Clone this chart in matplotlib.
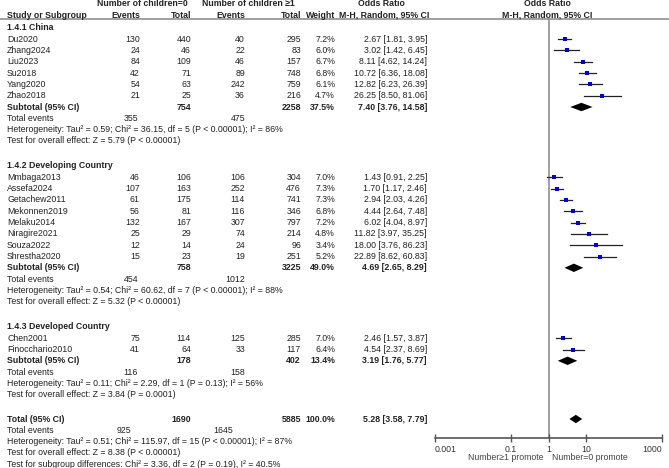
import matplotlib
matplotlib.use("Agg")
import matplotlib.pyplot as plt
import numpy as np

plt.rcParams['font.family'] = ['Liberation Sans', 'DejaVu Sans']

# ---- data ----
group_titles = ['1.4.1 China', '1.4.2 Developing Country', '1.4.3 Developed Country']

china_names = ['Du2020', 'Zhang2024', 'Liu2023', 'Su2018', 'Yang2020', 'Zhao2018']
china_ev0 = [130, 24, 84, 42, 54, 21]
china_tot0 = [440, 46, 109, 71, 63, 25]
china_ev1 = [40, 22, 46, 89, 242, 36]
china_tot1 = [295, 83, 157, 748, 759, 216]
china_w = [7.2, 6.0, 6.7, 6.8, 6.1, 4.7]
china_or = [2.67, 3.02, 8.11, 10.72, 12.82, 26.25]
china_lo = [1.81, 1.42, 4.62, 6.36, 6.23, 8.50]
china_hi = [3.95, 6.45, 14.24, 18.08, 26.39, 81.06]

dev_names = ['Mmbaga2013', 'Assefa2024', 'Getachew2011', 'Mekonnen2019', 'Melaku2014',
             'Niragire2021', 'Souza2022', 'Shrestha2020']
dev_ev0 = [46, 107, 61, 56, 132, 25, 12, 15]
dev_tot0 = [106, 163, 175, 81, 167, 29, 14, 23]
dev_ev1 = [106, 252, 114, 116, 307, 74, 24, 19]
dev_tot1 = [304, 476, 741, 346, 797, 214, 96, 251]
dev_w = [7.0, 7.3, 7.3, 6.8, 7.2, 4.8, 3.4, 5.2]
dev_or = [1.43, 1.70, 2.94, 4.44, 6.02, 11.82, 18.00, 22.89]
dev_lo = [0.91, 1.17, 2.03, 2.64, 4.04, 3.97, 3.76, 8.62]
dev_hi = [2.25, 2.46, 4.26, 7.48, 8.97, 35.25, 86.23, 60.83]

devd_names = ['Chen2001', 'Finocchario2010']
devd_ev0 = [75, 41]
devd_tot0 = [114, 64]
devd_ev1 = [125, 33]
devd_tot1 = [285, 117]
devd_w = [7.0, 6.4]
devd_or = [2.46, 4.54]
devd_lo = [1.57, 2.37]
devd_hi = [3.87, 8.69]

# subtotals per group: China, Developing, Developed
sub_tot0 = [754, 758, 178]
sub_tot1 = [2258, 3225, 402]
sub_w = [37.5, 49.0, 13.4]
sub_or = [7.40, 4.69, 3.19]
sub_lo = [3.76, 2.65, 1.76]
sub_hi = [14.58, 8.29, 5.77]
sub_ev0 = [355, 454, 116]
sub_ev1 = [475, 1012, 158]
sub_het = ['Heterogeneity: Tau² = 0.59; Chi² = 36.15, df = 5 (P < 0.00001); I² = 86%',
           'Heterogeneity: Tau² = 0.54; Chi² = 60.62, df = 7 (P < 0.00001); I² = 88%',
           'Heterogeneity: Tau² = 0.11; Chi² = 2.29, df = 1 (P = 0.13); I² = 56%']
sub_test = ['Test for overall effect: Z = 5.79 (P < 0.00001)',
            'Test for overall effect: Z = 5.32 (P < 0.00001)',
            'Test for overall effect: Z = 3.84 (P = 0.0001)']

total_tot0, total_tot1, total_w = 1690, 5885, 100.0
total_or, total_lo, total_hi = 5.28, 3.58, 7.79
total_ev0, total_ev1 = 925, 1645
total_notes = ['Heterogeneity: Tau² = 0.51; Chi² = 115.97, df = 15 (P < 0.00001); I² = 87%',
               'Test for overall effect: Z = 8.38 (P < 0.00001)',
               'Test for subgroup differences: Chi² = 3.36, df = 2 (P = 0.19), I² = 40.5%']

axis_ticks = [0.001, 0.1, 1, 10, 1000]
axis_ticklabels = ['0.001', '0.1', '1', '10', '1000']

groups = [
    (china_names, china_ev0, china_tot0, china_ev1, china_tot1, china_w, china_or, china_lo, china_hi),
    (dev_names, dev_ev0, dev_tot0, dev_ev1, dev_tot1, dev_w, dev_or, dev_lo, dev_hi),
    (devd_names, devd_ev0, devd_tot0, devd_ev1, devd_tot1, devd_w, devd_or, devd_lo, devd_hi),
]

# ---- layout (pixel coordinates) ----
W, H = 669, 468
fig = plt.figure(figsize=(W / 100, H / 100), dpi=100)
ax = fig.add_axes([0, 0, 1, 1])
ax.set_xlim(0, W)
ax.set_ylim(H, 0)
ax.axis('off')

PX0, PX1, AXY, TOPY = 435, 662, 438, 18
fa = fig.add_axes([PX0 / W, 1 - AXY / H, (PX1 - PX0) / W, (AXY - TOPY) / H])
fa.set_xscale('log')
fa.set_xlim(0.001, 1000)
fa.set_ylim(AXY, TOPY)
fa.patch.set_alpha(0)
for s in ['top', 'left', 'right']:
    fa.spines[s].set_visible(False)
fa.spines['bottom'].set_color('#555555')
fa.spines['bottom'].set_linewidth(1.2)
fa.set_yticks([])
fa.set_xticks(axis_ticks)
fa.set_xticklabels(axis_ticklabels)
fa.minorticks_off()
fa.tick_params(axis='x', direction='inout', length=6, width=1, color='#555555',
               labelsize=6.3, labelcolor='#333333', pad=2)
lbls = fa.get_xticklabels()
lbls[0].set_ha('left')
lbls[-1].set_ha('right')
fa.axvline(1, color='#999999', lw=1.3, zorder=0)

FS = 6.3
TC = '#222222'
X_NAME, X_E0, X_T0, X_E1, X_T1, X_W, X_OR = 7, 140, 191, 245, 301, 335, 427


def txt(x, y, s, ha='left', bold=False, size=FS, color=TC):
    ax.text(x, y, s, ha=ha, va='center', fontsize=size, color=color,
            fontweight='bold' if bold else 'normal')


def diamond(y, o, lo, hi, h=4.2):
    fa.fill([lo, o, hi, o], [y, y - h, y, y + h], color='black', lw=0)


# header
txt(142, 4, 'Number of children=0', ha='center', bold=True)
txt(248, 4, 'Number of children ≥1', ha='center', bold=True)
txt(381, 4, 'Odds Ratio', ha='center', bold=True)
txt(547, 4, 'Odds Ratio', ha='center', bold=True)
txt(X_NAME, 15, 'Study or Subgroup', bold=True)
for x, s in [(X_E0, 'Events'), (X_T0, 'Total'), (X_E1, 'Events'), (X_T1, 'Total'), (X_W, 'Weight')]:
    txt(x, 15, s, ha='right', bold=True)
txt(384, 15, 'M-H, Random, 95% CI', ha='center', bold=True)
txt(547, 15, 'M-H, Random, 95% CI', ha='center', bold=True)
ax.plot([0, W], [19, 19], color='#999999', lw=1.3)

UNIT = 11.3
y = 27.0
for gi, (names, e0, t0, e1, t1, w, o, lo, hi) in enumerate(groups):
    txt(X_NAME, y, group_titles[gi], bold=True)
    y += 12.2
    for i in range(len(names)):
        txt(X_NAME, y, names[i])
        txt(X_E0, y, str(e0[i]), ha='right')
        txt(X_T0, y, str(t0[i]), ha='right')
        txt(X_E1, y, str(e1[i]), ha='right')
        txt(X_T1, y, str(t1[i]), ha='right')
        txt(X_W, y, f'{w[i]:.1f}%', ha='right')
        txt(X_OR, y, f'{o[i]:.2f} [{lo[i]:.2f}, {hi[i]:.2f}]', ha='right')
        fa.plot([lo[i], hi[i]], [y, y], color='#222222', lw=0.9)
        fa.plot(o[i], y, marker='s', color='#0000dd', ms=2.1 + w[i] * 0.06, mew=0)
        y += UNIT
    txt(X_NAME, y, 'Subtotal (95% CI)', bold=True)
    txt(X_T0, y, str(sub_tot0[gi]), ha='right', bold=True)
    txt(X_T1, y, str(sub_tot1[gi]), ha='right', bold=True)
    txt(X_W, y, f'{sub_w[gi]:.1f}%', ha='right', bold=True)
    txt(X_OR, y, f'{sub_or[gi]:.2f} [{sub_lo[gi]:.2f}, {sub_hi[gi]:.2f}]', ha='right', bold=True)
    diamond(y, sub_or[gi], sub_lo[gi], sub_hi[gi])
    y += UNIT
    txt(X_NAME, y, 'Total events')
    txt(X_E0 - 2, y, str(sub_ev0[gi]), ha='right')
    txt(X_E1, y, str(sub_ev1[gi]), ha='right')
    y += UNIT
    txt(X_NAME, y, sub_het[gi])
    y += UNIT
    txt(X_NAME, y, sub_test[gi])
    y += 24.3

txt(X_NAME, y, 'Total (95% CI)', bold=True)
txt(X_T0, y, str(total_tot0), ha='right', bold=True)
txt(X_T1, y, str(total_tot1), ha='right', bold=True)
txt(X_W, y, f'{total_w:.1f}%', ha='right', bold=True)
txt(X_OR, y, f'{total_or:.2f} [{total_lo:.2f}, {total_hi:.2f}]', ha='right', bold=True)
diamond(y, total_or, total_lo, total_hi)
y += UNIT
txt(X_NAME, y, 'Total events')
txt(131, y, str(total_ev0), ha='right')
txt(233, y, str(total_ev1), ha='right')
for note in total_notes:
    y += UNIT
    txt(X_NAME, y, note)

txt(543, 457, 'Number≥1 promote', ha='right', color='#444444')
txt(552, 457, 'Number=0 promote', ha='left', color='#444444')

fig.savefig('out.png', dpi=100)
